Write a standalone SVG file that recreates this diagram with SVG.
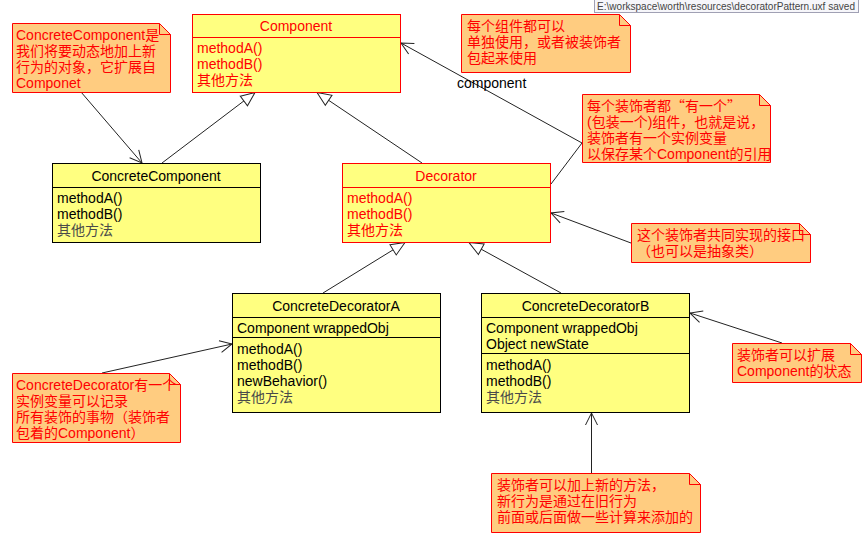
<svg xmlns="http://www.w3.org/2000/svg" width="866" height="547" viewBox="0 0 866 547">
<style>
text{font-family:"Liberation Sans","Noto Sans CJK SC",sans-serif;font-size:14px}
.cls{fill:#ffff80;stroke:#000;stroke-width:1}
.clsr{fill:#ffff80;stroke:#ff0000;stroke-width:1}
.div{stroke:#000;stroke-width:1}
.divr{stroke:#ff0000;stroke-width:1}
.tb{fill:#000}
.tr{fill:#ff0000}
.cjk{fill:#4a4a4a}
.note{fill:#ffcc80;stroke:#ff0000;stroke-width:1}
.fold{fill:none;stroke:#ff0000;stroke-width:1}
.nt{fill:#ff0000}
.q{font-family:"Noto Sans CJK SC",sans-serif}
.ln{fill:none;stroke:#222;stroke-width:1}
.inh{marker-end:url(#tri)}
.arr{marker-end:url(#open)}
.mid{text-anchor:middle}
</style>
<defs>
<marker id="open" viewBox="0 0 14 14" refX="13" refY="7" markerWidth="14" markerHeight="14" markerUnits="userSpaceOnUse" orient="auto"><path d="M1,1 L13,7 L1,13" fill="none" stroke="#222" stroke-width="1"/></marker>
<marker id="tri" viewBox="0 0 16 14" refX="15" refY="7" markerWidth="16" markerHeight="14" markerUnits="userSpaceOnUse" orient="auto"><path d="M1,1 L15,7 L1,13 Z" fill="#fff" stroke="#222" stroke-width="1"/></marker>
</defs>
<rect width="866" height="547" fill="#fff"/>

<g id="status">
<rect x="594.5" y="-0.5" width="264" height="13" fill="#f6f6fa" stroke="#a0a0b4"/>
<text x="597" y="9.5" style="font-size:10.5px;fill:#444" textLength="258" lengthAdjust="spacingAndGlyphs">E:\workspace\worth\resources\decoratorPattern.uxf saved</text>
</g>

<g id="connectors">
<line class="ln inh" x1="162" y1="163" x2="255" y2="92.5"/>
<line class="ln inh" x1="422" y1="163" x2="317" y2="92.5"/>
<line class="ln inh" x1="323" y1="293" x2="405" y2="242.5"/>
<line class="ln inh" x1="561" y1="293" x2="469" y2="242.5"/>
<polyline class="ln arr" points="551,184 582,143 401,43"/>
<text x="457" y="88" class="tb">component</text>
<line class="ln arr" x1="81" y1="92" x2="142" y2="163"/>
<line class="ln arr" x1="102" y1="373" x2="232" y2="344"/>
<line class="ln arr" x1="631" y1="243" x2="551" y2="213"/>
<line class="ln arr" x1="782" y1="343" x2="690" y2="313"/>
<line class="ln arr" x1="591.5" y1="473" x2="591.5" y2="413"/>
</g>

<g id="Component">
<rect class="clsr" x="192.5" y="14.5" width="208" height="78"/>
<line class="divr" x1="192.5" y1="37.5" x2="400.5" y2="37.5"/>
<text x="296" y="31" class="tr mid">Component</text>
<text x="197" y="53" class="tr">methodA()</text>
<text x="197" y="69" class="tr">methodB()</text>
<text x="197" y="85" class="tr">其他方法</text>
</g>

<g id="ConcreteComponent">
<rect class="cls" x="52.5" y="163.5" width="208" height="79"/>
<line class="div" x1="52.5" y1="187.5" x2="260.5" y2="187.5"/>
<text x="156" y="181" class="tb mid">ConcreteComponent</text>
<text x="57" y="203" class="tb">methodA()</text>
<text x="57" y="219" class="tb">methodB()</text>
<text x="57" y="235" class="cjk">其他方法</text>
</g>

<g id="Decorator">
<rect class="clsr" x="342.5" y="163.5" width="208" height="79"/>
<line class="divr" x1="342.5" y1="187.5" x2="550.5" y2="187.5"/>
<text x="446" y="181" class="tr mid">Decorator</text>
<text x="347" y="203" class="tr">methodA()</text>
<text x="347" y="219" class="tr">methodB()</text>
<text x="347" y="235" class="tr">其他方法</text>
</g>

<g id="ConcreteDecoratorA">
<rect class="cls" x="232.5" y="293.5" width="208" height="119"/>
<line class="div" x1="232.5" y1="317.5" x2="440.5" y2="317.5"/>
<line class="div" x1="232.5" y1="337.5" x2="440.5" y2="337.5"/>
<text x="336" y="311" class="tb mid">ConcreteDecoratorA</text>
<text x="237" y="333" class="tb">Component wrappedObj</text>
<text x="237" y="354" class="tb">methodA()</text>
<text x="237" y="370" class="tb">methodB()</text>
<text x="237" y="386" class="tb">newBehavior()</text>
<text x="237" y="402" class="cjk">其他方法</text>
</g>

<g id="ConcreteDecoratorB">
<rect class="cls" x="481.5" y="293.5" width="208" height="119"/>
<line class="div" x1="481.5" y1="317.5" x2="689.5" y2="317.5"/>
<line class="div" x1="481.5" y1="353.5" x2="689.5" y2="353.5"/>
<text x="585.5" y="311" class="tb mid">ConcreteDecoratorB</text>
<text x="486" y="333" class="tb">Component wrappedObj</text>
<text x="486" y="349" class="tb">Object newState</text>
<text x="486" y="370" class="tb">methodA()</text>
<text x="486" y="386" class="tb">methodB()</text>
<text x="486" y="402" class="cjk">其他方法</text>
</g>

<g id="note1">
<path class="note" d="M12.5,23.5 H159.5 L170.5,34.5 V92.5 H12.5 Z"/>
<path class="fold" d="M159.5,23.5 V34.5 H170.5"/>
<text x="16" y="40" class="nt">ConcreteComponent是</text>
<text x="16" y="56" class="nt">我们将要动态地加上新</text>
<text x="16" y="72" class="nt">行为的对象，它扩展自</text>
<text x="16" y="88" class="nt">Componet</text>
</g>

<g id="note2">
<path class="note" d="M461.5,14.5 H619.5 L630.5,25.5 V72.5 H461.5 Z"/>
<path class="fold" d="M619.5,14.5 V25.5 H630.5"/>
<text x="467" y="31" class="nt">每个组件都可以</text>
<text x="467" y="47" class="nt">单独使用，或者被装饰者</text>
<text x="467" y="63" class="nt">包起来使用</text>
</g>

<g id="note3">
<path class="note" d="M582.5,94.5 H759.5 L770.5,105.5 V162.5 H582.5 Z"/>
<path class="fold" d="M759.5,94.5 V105.5 H770.5"/>
<text x="587" y="111" class="nt q">每个装饰者都“有一个”</text>
<text x="587" y="127" class="nt">(包装一个)组件，也就是说，</text>
<text x="587" y="143" class="nt">装饰者有一个实例变量</text>
<text x="587" y="159" class="nt">以保存某个Component的引用</text>
</g>

<g id="note4">
<path class="note" d="M631.5,223.5 H799.5 L810.5,234.5 V262.5 H631.5 Z"/>
<path class="fold" d="M799.5,223.5 V234.5 H810.5"/>
<text x="637" y="240" class="nt">这个装饰者共同实现的接口</text>
<text x="637" y="256" class="nt">（也可以是抽象类）</text>
</g>

<g id="note5">
<path class="note" d="M12.5,373.5 H169.5 L180.5,384.5 V442.5 H12.5 Z"/>
<path class="fold" d="M169.5,373.5 V384.5 H180.5"/>
<text x="16" y="390" class="nt">ConcreteDecorator有一个</text>
<text x="16" y="406" class="nt">实例变量可以记录</text>
<text x="16" y="422" class="nt">所有装饰的事物（装饰者</text>
<text x="16" y="438" class="nt">包着的Component）</text>
</g>

<g id="note6">
<path class="note" d="M732.5,343.5 H850.5 L861.5,354.5 V382.5 H732.5 Z"/>
<path class="fold" d="M850.5,343.5 V354.5 H861.5"/>
<text x="737" y="360" class="nt">装饰者可以扩展</text>
<text x="737" y="376" class="nt">Component的状态</text>
</g>

<g id="note7">
<path class="note" d="M491.5,473.5 H689.5 L700.5,484.5 V532.5 H491.5 Z"/>
<path class="fold" d="M689.5,473.5 V484.5 H700.5"/>
<text x="497" y="490" class="nt">装饰者可以加上新的方法，</text>
<text x="497" y="506" class="nt">新行为是通过在旧行为</text>
<text x="497" y="522" class="nt">前面或后面做一些计算来添加的</text>
</g>
</svg>
